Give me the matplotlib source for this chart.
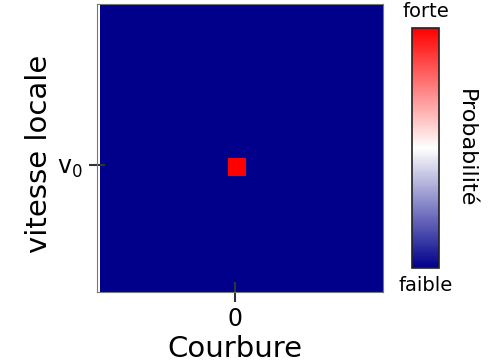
import numpy as np
import matplotlib
matplotlib.use("Agg")
import matplotlib.pyplot as plt
from matplotlib.colors import LinearSegmentedColormap

# Data
courbure_edges = np.arange(-7.4, 8.7, 1.0)      # 16 bins
vitesse_edges = np.arange(-7.6, 9.5, 1.0)       # 17 bins
probabilite = np.zeros((len(vitesse_edges) - 1, len(courbure_edges) - 1))
peak_row, peak_col = 7, 7
probabilite[peak_row, peak_col] = 1.0

x_tick_pos = [0.0]
x_tick_labels = ["0"]
y_tick_pos = [0.0]
y_tick_labels = [r"$\mathregular{v_0}$"]

cmap = LinearSegmentedColormap.from_list("nwr", ["#00008b", "#ffffff", "#ff0000"])

fig = plt.figure(figsize=(4.89, 3.64), dpi=100)
ax = fig.add_axes([97/489, (364-292)/364, 286/489, 288/364])
mesh = ax.pcolormesh(courbure_edges, vitesse_edges, probabilite, cmap=cmap,
                     vmin=0, vmax=1, shading="flat")
ax.set_xlim(-7.55, 8.08)
ax.set_ylim(-6.94, 8.8)
for s in ax.spines.values():
    s.set_edgecolor("#777777")
    s.set_linewidth(0.8)
ax.set_xticks(x_tick_pos)
ax.set_xticklabels(x_tick_labels, fontsize=17)
ax.set_yticks(y_tick_pos)
ax.set_yticklabels(y_tick_labels, fontsize=17)
ax.tick_params(axis="x", direction="inout", length=14, width=1.5, color="#333333", pad=4)
ax.tick_params(axis="y", direction="inout", length=12, width=1.5, color="#333333", pad=4)
ax.set_xlabel("Courbure", fontsize=21)
ax.set_ylabel("vitesse locale", fontsize=21)
ax.xaxis.set_label_coords(0.483, -0.15, transform=ax.transAxes)
ax.yaxis.set_label_coords(-0.153, 0.478, transform=ax.transAxes)
ax.xaxis.label.set_va("top")
ax.yaxis.label.set_va("bottom")

cax = fig.add_axes([412/489, (364-268)/364, 27/489, 240/364])
cb = fig.colorbar(mesh, cax=cax)
cb.set_ticks([])
cb.outline.set_edgecolor("#222222")
cb.outline.set_linewidth(1.2)
cax.annotate("forte", xy=(0.5, 1.0), xycoords="axes fraction", xytext=(0, 5),
             textcoords="offset points", ha="center", va="bottom", fontsize=14)
cax.annotate("faible", xy=(0.5, 0.0), xycoords="axes fraction", xytext=(0, -6),
             textcoords="offset points", ha="center", va="top", fontsize=14)
cax.text(2.0, 0.5, "Probabilité", transform=cax.transAxes, ha="center", va="center",
         rotation=270, fontsize=16)

fig.savefig("out.png", dpi=100)
